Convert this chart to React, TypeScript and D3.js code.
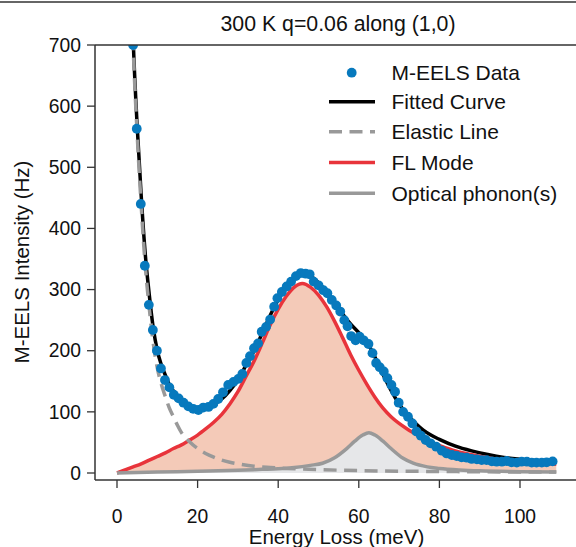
import React from "react";
import * as d3 from "d3";

const dataE = [4.0, 4.9, 5.9, 6.9, 7.9, 8.9, 9.9, 10.9, 11.9, 13.0, 14.1, 15.3, 16.5, 17.7, 18.9, 20.2, 21.4, 22.7, 23.9, 25.1, 26.3, 27.6, 28.9, 30.1, 31.1, 32.1, 33.0, 34.0, 35.0, 35.9, 37.0, 38.0, 39.0, 39.8, 40.9, 42.1, 43.2, 44.4, 45.6, 46.8, 47.8, 48.8, 50.0, 51.2, 52.2, 53.3, 54.4, 55.4, 56.4, 57.2, 58.1, 59.2, 60.2, 61.2, 62.4, 63.4, 64.3, 65.2, 66.2, 67.1, 68.1, 69.0, 69.9, 71.0, 72.2, 73.3, 74.3, 75.4, 76.6, 77.8, 79.2, 80.6, 81.8, 83.1, 84.3, 85.5, 86.8, 88.0, 89.3, 90.5, 91.7, 93.0, 94.2, 95.5, 96.7, 97.9, 99.2, 100.4, 101.7, 102.9, 104.1, 105.4, 106.6, 108.1];
const dataI = [700, 563, 440, 339, 275, 234, 200, 171, 152, 140, 128, 122, 115, 109, 105, 103, 107, 108, 113, 121, 132, 144, 149, 154, 162, 180, 191, 204, 212, 231, 239, 251, 272, 286, 296, 305, 313, 322, 327, 326, 325, 313, 307, 299, 294, 283, 274, 264, 250, 240, 224, 217, 223, 217, 211, 196, 180, 173, 166, 155, 144, 133, 115, 100, 92, 81, 68, 61, 54, 48.6, 43, 36.5, 32, 29.4, 27.8, 25.7, 25, 23, 22.4, 21, 21, 19, 18.5, 18.5, 19.6, 17.5, 17, 18.5, 18.5, 17, 17, 17, 17.5, 19];

const fitE = [3.6, 4, 5, 6, 7, 8, 9, 10, 11, 12, 13, 14, 15, 16, 18, 20, 22, 24, 26, 28, 30, 32, 34, 36, 38, 40, 42, 44, 46, 48, 50, 52, 54, 56, 58, 60, 62, 64, 66, 68, 70, 72, 74, 76, 78, 80, 84, 88, 92, 96, 100, 104, 109];
const fitI = [790, 711, 568, 454, 359, 292, 237, 200, 177, 160, 144.5, 134, 123, 114.4, 107.7, 105, 107, 112.6, 121, 134.7, 152.5, 176, 199.5, 228, 257.5, 283.5, 305, 320, 327, 322.5, 311, 296, 278, 260, 243.5, 229.5, 214.4, 189.6, 161.4, 135.2, 113, 96, 81.8, 70.2, 61.6, 55, 43.8, 36.1, 30.2, 25.5, 22.4, 19.9, 17.5];

const elasticE = [3.6, 4, 5, 6, 7, 8, 9, 10, 11, 12, 13, 14, 15, 16, 18, 20, 22, 24, 26, 28, 30, 34, 38, 42, 46, 50, 60, 70, 80, 90, 100, 109];
const elasticI = [780, 700, 555, 438, 340, 270, 212, 172, 145, 125, 106, 92, 78, 66, 51, 40, 32, 26, 21, 17.5, 15, 11, 9, 7.5, 6.5, 5.5, 4, 3, 2.5, 2, 1.7, 1.5];

const flE = [0, 2, 4, 6, 8, 10, 12, 14, 16, 18, 20, 22, 24, 26, 28, 30, 32, 34, 36, 38, 40, 42, 44, 46, 48, 50, 52, 54, 56, 58, 60, 62, 64, 66, 68, 70, 72, 74, 76, 78, 80, 84, 88, 92, 96, 100, 104, 109];
const flI = [0, 5, 10, 15, 21, 27, 33, 40, 46, 54, 62, 72, 83, 96, 113, 133, 158, 183, 212, 242, 268, 289, 304, 310, 304, 291, 272, 248, 221, 193, 168, 145, 124, 106, 92, 81, 72, 64, 56, 50, 45, 36, 30, 25, 21, 18.5, 16.5, 14.5];

const phE = [0, 10, 20, 30, 36, 40, 44, 48, 51, 54, 57, 59, 61, 62.5, 64, 66, 68, 71, 73.5, 77, 80, 85, 90, 100, 109];
const phI = [0, 1.5, 3, 4.5, 6, 7, 9, 12.5, 16, 25, 40, 52, 62, 66, 62, 52, 40, 24, 16, 10, 7.5, 5, 3.5, 2.2, 1.5];

const xTicks = [0, 20, 40, 60, 80, 100];
const yTicks = [0, 100, 200, 300, 400, 500, 600, 700];

const title = "300 K q=0.06 along (1,0)";
const xLabel = "Energy Loss (meV)";
const yLabel = "M-EELS Intensity (Hz)";
const legendLabels = ["M-EELS Data", "Fitted Curve", "Elastic Line", "FL Mode", "Optical phonon(s)"];

const W = 576;
const H = 547;
const FONT = "'Liberation Sans', Arial, Helvetica, sans-serif";
const BLUE = "#0779bd";
const RED = "#e8343b";
const GREY = "#999999";
const SALMON = "#f4cab8";
const LIGHTGREY = "#e6e7e9";

export default function App() {
  const left = 95, right = 578, top = 45, bottom = 480;
  // calibrate: x(0)=117, x(100)=520 ; y(0)=473, y(700)=45
  const kx = (520 - 117) / 100;
  const ky = (473 - 45) / 700;
  const x = d3.scaleLinear().domain([(left - 117) / kx, (right - 117) / kx]).range([left, right]);
  const y = d3.scaleLinear().domain([-(bottom - 473) / ky, 700]).range([bottom, top]);

  const pts = (E: number[], I: number[]) => E.map((e, i) => [e, I[i]] as [number, number]);
  const line = d3.line<[number, number]>().x(d => x(d[0])).y(d => y(d[1])).curve(d3.curveMonotoneX);
  const area = d3.area<[number, number]>().x(d => x(d[0])).y0(y(0)).y1(d => y(d[1])).curve(d3.curveMonotoneX);

  const fit = pts(fitE, fitI);
  const el = pts(elasticE, elasticI);
  const fl = pts(flE, flI);
  const ph = pts(phE, phI);
  const data = pts(dataE, dataI);

  const lw = 3.5;
  const rDot = 4.9;
  const legX0 = 329, legX1 = 375, legTX = 391.5;
  const legY = [72.7, 101.7, 131.7, 162.5, 193.3];

  return (
    <svg width={W} height={H} style={{ position: "absolute", left: 0, top: 0, background: "#fff" }} fontFamily={FONT}>
      <defs>
        <clipPath id="plotclip">
          <rect x={left} y={top} width={right - left} height={bottom - top} />
        </clipPath>
      </defs>
      <rect x={0} y={0} width={W} height={H} fill="#fff" />
      {/* title box top line */}
      <line x1={0} x2={W} y1={2} y2={2} stroke="#333" strokeWidth={1.5} />
      <text x={338} y={31} textAnchor="middle" fontSize={21.3} fill="#111">{title}</text>

      <g clipPath="url(#plotclip)">
        <path d={area(fl) || ""} fill={SALMON} />
        <path d={area(ph) || ""} fill={LIGHTGREY} />
        <path d={line(fit) || ""} fill="none" stroke="#000" strokeWidth={lw} />
        <path d={line(fl) || ""} fill="none" stroke={RED} strokeWidth={lw} />
        <path d={line(ph) || ""} fill="none" stroke={GREY} strokeWidth={lw} />
        <path d={line(el) || ""} fill="none" stroke={GREY} strokeWidth={lw} strokeDasharray="13,7.5" />
        {data.map((d, i) => (
          <circle key={i} cx={x(d[0])} cy={y(d[1])} r={rDot} fill={BLUE} />
        ))}
      </g>

      {/* spines */}
      <line x1={left} x2={left} y1={top} y2={bottom} stroke="#333" strokeWidth={1.5} />
      <line x1={left} x2={W} y1={bottom} y2={bottom} stroke="#333" strokeWidth={1.5} />
      <line x1={left} x2={W} y1={top} y2={top} stroke="#333" strokeWidth={1.5} />

      {xTicks.map(t => (
        <g key={"x" + t}>
          <line x1={x(t)} x2={x(t)} y1={bottom} y2={bottom + 8} stroke="#333" strokeWidth={1.3} />
          <text x={x(t)} y={523} textAnchor="middle" fontSize={19.3} fill="#111">{t}</text>
        </g>
      ))}
      {yTicks.map(t => (
        <g key={"y" + t}>
          <line x1={left - 8} x2={left} y1={y(t)} y2={y(t)} stroke="#333" strokeWidth={1.3} />
          <text x={81} y={y(t)} dy="0.35em" textAnchor="end" fontSize={19.3} fill="#111">{t}</text>
        </g>
      ))}
      <text x={336.5} y={544} textAnchor="middle" fontSize={20.5} fill="#111">{xLabel}</text>
      <text transform={`translate(29,262) rotate(-90)`} textAnchor="middle" fontSize={20.5} fill="#111">{yLabel}</text>

      {/* legend */}
      <circle cx={351.7} cy={legY[0]} r={rDot} fill={BLUE} />
      <line x1={legX0} x2={legX1} y1={legY[1]} y2={legY[1]} stroke="#000" strokeWidth={lw} />
      <line x1={legX0} x2={legX1} y1={legY[2]} y2={legY[2]} stroke={GREY} strokeWidth={lw} strokeDasharray="13,7.5" />
      <line x1={legX0} x2={legX1} y1={legY[3]} y2={legY[3]} stroke={RED} strokeWidth={lw} />
      <line x1={legX0} x2={legX1} y1={legY[4]} y2={legY[4]} stroke={GREY} strokeWidth={lw} />
      {legendLabels.map((l, i) => (
        <text key={l} x={legTX} y={legY[i]} dy="0.35em" fontSize={21} fill="#111">{l}</text>
      ))}
    </svg>
  );
}
